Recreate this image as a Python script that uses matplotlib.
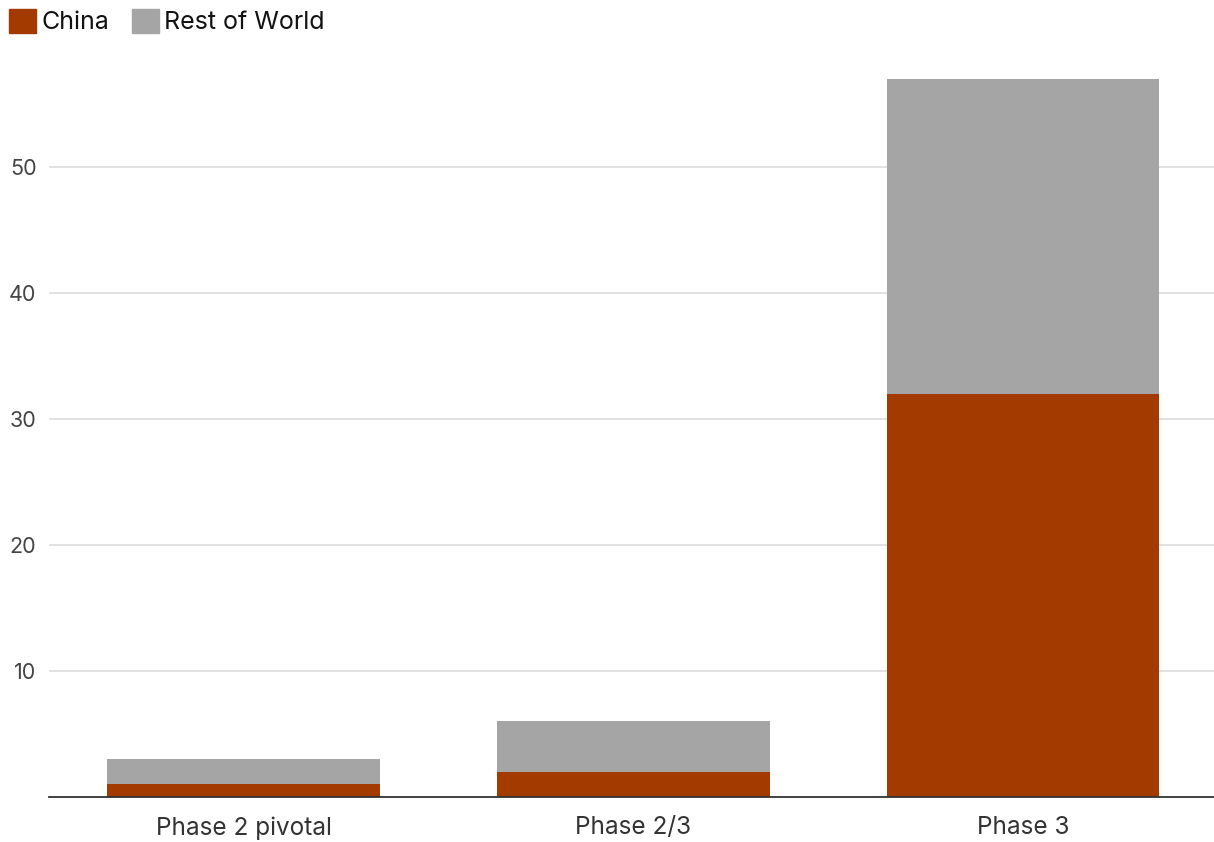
import matplotlib.pyplot as plt
import matplotlib.patches as mpatches
import numpy as np

plt.rcParams['font.family'] = ['Inter', 'DejaVu Sans']

phases = ["Phase 2 pivotal", "Phase 2/3", "Phase 3"]
china = [1, 2, 32]
rest_of_world = [2, 4, 25]

CHINA_COLOR = "#A33A00"
ROW_COLOR = "#A5A5A5"

fig = plt.figure(figsize=(12.14, 8.42), dpi=100)
ax = fig.add_axes([49 / 1214, 1 - 797 / 842, 1 - 49 / 1214, (797 - 55) / 842])

x = np.arange(len(phases))
ax.bar(x, china, width=0.7, color=CHINA_COLOR, zorder=3)
ax.bar(x, rest_of_world, width=0.7, bottom=china, color=ROW_COLOR, zorder=3)

ax.set_xlim(-0.5, 2.49)
ax.set_ylim(0, (797 - 55) / 12.6)
ax.set_yticks([10, 20, 30, 40, 50])
ax.set_xticks(x)
ax.set_xticklabels(phases)

ax.grid(axis='y', color='#dddddd', linewidth=1.2, zorder=0)
for side in ['top', 'right', 'left']:
    ax.spines[side].set_visible(False)
ax.spines['bottom'].set_color('#333333')
ax.spines['bottom'].set_linewidth(1.3)
ax.spines['bottom'].set_zorder(4)

ax.tick_params(axis='y', length=0, pad=9, labelsize=15.5, labelcolor='#444444')
ax.tick_params(axis='x', length=0, pad=14, labelsize=17.5, labelcolor='#333333')

handles = [mpatches.Patch(color=CHINA_COLOR, label="China"),
           mpatches.Patch(color=ROW_COLOR, label="Rest of World")]
fig.legend(handles=handles, loc='upper left', bbox_to_anchor=(0.0, 1.0),
           ncol=2, frameon=False, fontsize=18, handlelength=1.1, handleheight=1.1,
           handletextpad=0.2, columnspacing=0.9, borderaxespad=0.2, borderpad=0.15,
           labelcolor='#111111')

fig.savefig("out.png", dpi=100)
